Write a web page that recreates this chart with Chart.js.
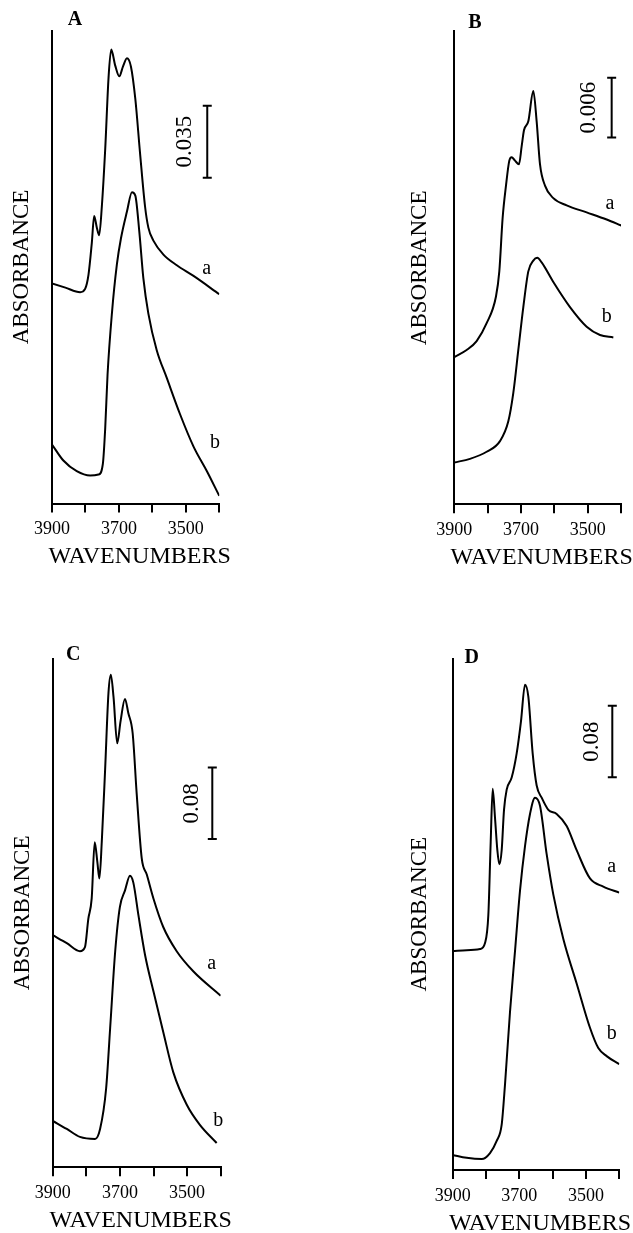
<!DOCTYPE html>
<html>
<head>
<meta charset="utf-8">
<script src="https://cdn.jsdelivr.net/npm/chart.js@4.4.1/dist/chart.umd.min.js"></script>
<style>
html,body{margin:0;padding:0;background:#fff;}
body{width:633px;height:1233px;position:relative;overflow:hidden;}
canvas{position:absolute;}
</style>
</head>
<body>
<canvas id="cA" width="316" height="600" style="left:0;top:0"></canvas>
<canvas id="cB" width="317" height="600" style="left:316px;top:0"></canvas>
<canvas id="cC" width="316" height="633" style="left:0;top:600px"></canvas>
<canvas id="cD" width="317" height="633" style="left:316px;top:600px"></canvas>
<script>
// ---------- data (wavenumbers in cm-1, absorbance) ----------
const xTickLabels = [3900, 3700, 3500];
const xAxisTitle = 'WAVENUMBERS';
const yAxisTitle = 'ABSORBANCE';
const panelLetters = ['A', 'B', 'C', 'D'];
const curveNames = ['a', 'b'];
const scaleBarValues = [0.035, 0.006, 0.08, 0.08];
const scaleBarLabels = ['0.035', '0.006', '0.08', '0.08'];
const yAxisMax = [0.2301, 0.04753, 0.5695, 0.5726];

const A_a_wn  = [3900,3860,3816,3801,3791,3781,3774,3766,3759,3751,3741,3731,3723,3711,3699,3688,3676,3664,3651,3637,3622,3612,3597,3567,3527,3477,3400];
const A_a_abs = [0.1070,0.1050,0.1028,0.1044,0.1112,0.1268,0.1399,0.1342,0.1305,0.1446,0.1723,0.2072,0.2208,0.2130,0.2078,0.2125,0.2166,0.2125,0.1968,0.1707,0.1446,0.1342,0.1279,0.1211,0.1159,0.1107,0.1018];
const A_b_wn  = [3900,3866,3826,3786,3761,3748,3741,3734,3721,3706,3694,3676,3661,3651,3639,3627,3612,3587,3557,3517,3477,3437,3400];
const A_b_abs = [0.0287,0.0209,0.0157,0.0136,0.0141,0.0193,0.0365,0.0626,0.0924,0.1164,0.1289,0.1420,0.1514,0.1498,0.1321,0.1096,0.0924,0.0746,0.0611,0.0433,0.0277,0.0157,0.0037];

const B_a_wn  = [3900,3863,3833,3803,3775,3765,3755,3745,3735,3728,3718,3706,3698,3691,3678,3663,3653,3643,3628,3603,3563,3503,3443,3398];
const B_a_abs = [0.01480,0.01551,0.01641,0.01820,0.02089,0.02341,0.02880,0.03203,0.03454,0.03489,0.03454,0.03418,0.03597,0.03759,0.03849,0.04154,0.03849,0.03418,0.03203,0.03077,0.03005,0.02934,0.02862,0.02800];
const B_b_wn  = [3900,3853,3803,3763,3738,3723,3708,3693,3678,3663,3651,3638,3603,3553,3503,3463,3423];
const B_b_abs = [0.00420,0.00457,0.00528,0.00635,0.00834,0.01120,0.01551,0.01982,0.02341,0.02449,0.02477,0.02431,0.02234,0.01982,0.01785,0.01702,0.01677];

const C_a_wn  = [3900,3858,3819,3804,3794,3784,3775,3767,3761,3754,3744,3734,3727,3719,3708,3698,3685,3675,3662,3650,3635,3620,3600,3571,3531,3481,3400];
const C_a_abs = [0.2598,0.2508,0.2418,0.2464,0.2780,0.3006,0.3638,0.3413,0.3231,0.3638,0.4451,0.5310,0.5513,0.5265,0.4746,0.4994,0.5242,0.5085,0.4858,0.4180,0.3458,0.3276,0.3005,0.2689,0.2418,0.2191,0.1920];
const C_b_wn  = [3900,3858,3819,3774,3759,3741,3729,3714,3700,3685,3670,3660,3645,3625,3600,3571,3541,3501,3462,3412];
const C_b_abs = [0.0519,0.0428,0.0339,0.0316,0.0428,0.0881,0.1559,0.2418,0.2915,0.3096,0.3262,0.3186,0.2824,0.2373,0.1966,0.1513,0.1062,0.0700,0.0475,0.0271];

const D_a_wn  = [3900,3858,3818,3803,3793,3786,3780,3773,3766,3760,3753,3746,3738,3723,3708,3695,3683,3673,3660,3648,3633,3613,3588,3558,3528,3488,3448,3400];
const D_a_abs = [0.2450,0.2460,0.2473,0.2541,0.2857,0.3670,0.4267,0.3942,0.3580,0.3422,0.3580,0.4032,0.4258,0.4393,0.4664,0.5026,0.5433,0.5298,0.4664,0.4304,0.4168,0.4032,0.3986,0.3851,0.3580,0.3264,0.3173,0.3105];
const D_b_wn  = [3900,3858,3813,3788,3768,3753,3743,3728,3713,3698,3683,3668,3653,3638,3618,3598,3568,3528,3488,3463,3438,3400];
const D_b_abs = [0.0168,0.0136,0.0122,0.0190,0.0325,0.0507,0.0959,0.1772,0.2450,0.3128,0.3626,0.3986,0.4168,0.4077,0.3535,0.3083,0.2586,0.2088,0.1592,0.1365,0.1275,0.1185];

// ---------- layout (pixels) ----------
const SERIF = '"Liberation Serif", "Times New Roman", serif';
Chart.defaults.font.family = SERIF;
Chart.defaults.color = '#000';

const X_TITLE_SIZE = 24;
const Y_TITLE_SIZE = 23;

const panels = [
  { id:'cA', canvas:{x:0,y:0,w:316,h:600}, plot:{left:52,right:219.3,top:30.5,bottom:503.5}, yTitleX:22,
    series:[[A_a_wn,A_a_abs],[A_b_wn,A_b_abs]],
    bar:{x:3436, from:0.1585, dx:22}, letter:{dx:23, dy:-10.5},
    labels:[{x:3438,y:0.1143},{x:3413,y:0.0294}] },
  { id:'cB', canvas:{x:316,y:0,w:317,h:600}, plot:{left:454.3,right:621,top:31.4,bottom:504.3}, yTitleX:420,
    series:[[B_a_wn,B_a_abs],[B_b_wn,B_b_abs]],
    bar:{x:3428, from:0.03686, dx:23}, letter:{dx:20.7, dy:-8.2},
    labels:[{x:3433,y:0.03022},{x:3443,y:0.01882}] },
  { id:'cC', canvas:{x:0,y:600,w:316,h:633}, plot:{left:52.7,right:220.7,top:658.5,bottom:1167.2}, yTitleX:23.3,
    series:[[C_a_wn,C_a_abs],[C_b_wn,C_b_abs]],
    bar:{x:3425, from:0.3674, dx:20.6}, letter:{dx:20.6, dy:-3.5},
    labels:[{x:3427,y:0.2283},{x:3407,y:0.0519}] },
  { id:'cD', canvas:{x:316,y:600,w:317,h:633}, plot:{left:452.7,right:619.3,top:658.5,bottom:1170}, yTitleX:420,
    series:[[D_a_wn,D_a_abs],[D_b_wn,D_b_abs]],
    bar:{x:3421, from:0.4396, dx:20.6}, letter:{dx:19, dy:-0.5},
    labels:[{x:3423,y:0.3398},{x:3423,y:0.1522}] }
];

const overlay = {
  id: 'overlay',
  afterDraw(chart, args, o) {
    const {ctx, chartArea, scales:{x, y}} = chart;
    ctx.save();
    ctx.fillStyle = '#000';
    ctx.strokeStyle = '#000';
    ctx.textAlign = 'center';
    ctx.textBaseline = 'middle';
    // x axis title (drawn here so it is not squeezed to the axis width)
    ctx.font = X_TITLE_SIZE + 'px ' + SERIF;
    ctx.fillText(xAxisTitle, (x.left + x.right) / 2 + 4, x.top + 53.3);
    // panel letter
    ctx.font = 'bold 20px ' + SERIF;
    ctx.fillText(o.letter, chartArea.left + o.letterPos.dx, chartArea.top + o.letterPos.dy);
    // scale bar
    const bx = x.getPixelForValue(o.bar.x);
    const y0 = y.getPixelForValue(o.bar.from);
    const y1 = y.getPixelForValue(o.bar.from + o.barValue);
    ctx.lineWidth = 2;
    ctx.beginPath();
    ctx.moveTo(bx, y0); ctx.lineTo(bx, y1);
    ctx.moveTo(bx - 4.5, y0); ctx.lineTo(bx + 4.5, y0);
    ctx.moveTo(bx - 4.5, y1); ctx.lineTo(bx + 4.5, y1);
    ctx.stroke();
    ctx.save();
    ctx.translate(bx - o.bar.dx, (y0 + y1) / 2);
    ctx.rotate(-Math.PI / 2);
    ctx.font = '23px ' + SERIF;
    ctx.fillText(o.barLabel, 0, 0);
    ctx.restore();
    // curve labels
    ctx.font = '20px ' + SERIF;
    o.labels.forEach((l, i) => ctx.fillText(curveNames[i], x.getPixelForValue(l.x), y.getPixelForValue(l.y)));
    ctx.restore();
  }
};

panels.forEach((p, k) => {
  const yTitleLH = Y_TITLE_SIZE * 1.2;
  const yBoxW = p.plot.left - p.yTitleX + yTitleLH / 2;
  const padLeft = p.plot.left - p.canvas.x - yBoxW;
  const xBoxH = 53.3 + X_TITLE_SIZE * 1.2 / 2;
  const padBottom = p.canvas.y + p.canvas.h - p.plot.bottom - xBoxH;
  const padTop = p.plot.top - p.canvas.y;
  const padRight = p.canvas.x + p.canvas.w - p.plot.right;

  const datasets = p.series.map((s, i) => ({
    label: curveNames[i],
    data: s[0].map((w, j) => ({x: w, y: s[1][j]})),
    borderColor: '#000',
    borderWidth: 2,
    pointRadius: 0,
    fill: false,
    cubicInterpolationMode: 'monotone',
    tension: 0.4
  }));

  new Chart(document.getElementById(p.id), {
    type: 'line',
    data: { datasets },
    options: {
      responsive: false,
      animation: false,
      events: [],
      layout: { padding: { left: padLeft, right: padRight, top: padTop, bottom: padBottom } },
      plugins: {
        legend: { display: false },
        tooltip: { enabled: false },
        overlay: {
          letter: panelLetters[k], letterPos: p.letter,
          bar: p.bar, barValue: scaleBarValues[k], barLabel: scaleBarLabels[k],
          labels: p.labels
        }
      },
      scales: {
        x: {
          type: 'linear',
          reverse: true,
          min: 3400, max: 3900,
          afterBuildTicks: (sc) => { sc.ticks = [3400,3500,3600,3700,3800,3900].map(v => ({value: v})); },
          ticks: {
            font: { size: 18 },
            color: '#000',
            padding: 6,
            maxRotation: 0,
            autoSkip: false,
            callback: (v) => xTickLabels.includes(v) ? String(v) : ''
          },
          grid: { display: true, drawOnChartArea: false, drawTicks: true, tickLength: 9, color: '#000', lineWidth: 2 },
          border: { display: true, color: '#000', width: 2 },
          title: { display: false, text: xAxisTitle },
          afterFit: (sc) => { sc.height = xBoxH; }
        },
        y: {
          type: 'linear',
          min: 0, max: yAxisMax[k],
          ticks: { display: false },
          grid: { display: false },
          border: { display: true, color: '#000', width: 2 },
          title: { display: true, text: yAxisTitle, font: { size: Y_TITLE_SIZE }, color: '#000', padding: { top: 0, bottom: 0 } },
          afterFit: (sc) => { sc.width = yBoxW; }
        }
      }
    },
    plugins: [overlay]
  });
});
</script>
</body>
</html>
